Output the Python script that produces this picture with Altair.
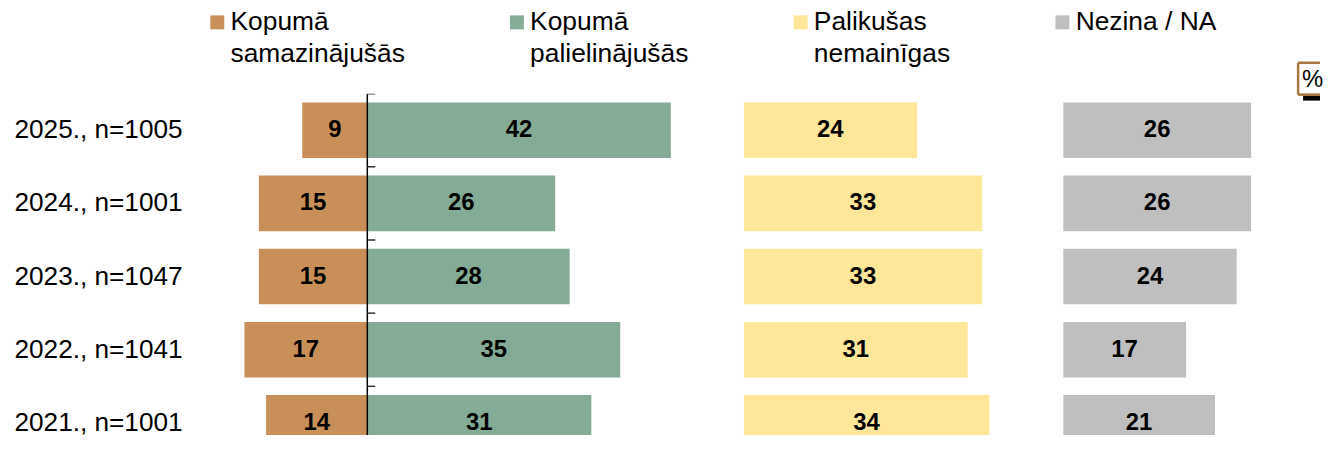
import altair as alt
import pandas as pd

years = ["2025., n=1005", "2024., n=1001", "2023., n=1047", "2022., n=1041", "2021., n=1001"]
decreased = [9, 15, 15, 17, 14]
increased = [42, 26, 28, 35, 31]
unchanged = [24, 33, 33, 31, 34]
dont_know = [26, 26, 24, 17, 21]

cats = ["Kopumā\nsamazinājušās", "Kopumā\npalielinājušās", "Palikušas\nnemainīgas", "Nezina / NA"]
colors = ["#C98F59", "#84AB95", "#FFE699", "#BFBFBF"]

FONT = "Liberation Sans"
S = 7.26  # px per percentage point

def frame(cat, vals, sign):
    df = pd.DataFrame({"year": years, "cat": cat, "value": vals})
    df["start"] = [sign * v if sign < 0 else 0 for v in vals]
    df["end"] = [0 if sign < 0 else v for v in vals]
    df["mid"] = (df["start"] + df["end"]) / 2
    return df

d1 = pd.concat([frame(cats[0], decreased, -1), frame(cats[1], increased, 1)], ignore_index=True)
d2 = frame(cats[2], unchanged, 1)
d3 = frame(cats[3], dont_know, 1)

STEP = 73.5
PI, PO = 0.24, 0.12
H = 343  # visible plot height (the last row is cut by the window)
yscale = alt.Scale(domain=years, paddingInner=PI, paddingOuter=PO, range=[0, 5 * STEP])

legend = alt.Legend(
    title=None, orient="none", legendX=-26, legendY=-85, direction="horizontal",
    columns=4, symbolType="square", symbolSize=196, symbolStrokeWidth=0,
    labelFont=FONT, labelFontSize=26.5, labelColor="black", labelOffset=0,
    columnPadding=99, labelLimit=400, labelBaseline="middle",
    labelExpr="indexof(datum.label, '\\n') < 0 ? [datum.label, ' '] : split(datum.label, '\\n')",
)
color = alt.Color("cat:N", scale=alt.Scale(domain=cats, range=colors), legend=legend)

def bars_text(df, dom, yaxis):
    xs = alt.Scale(domain=dom, nice=False, zero=False)
    base = alt.Chart(df)
    bars = base.mark_bar(clip=True).encode(
        x=alt.X("start:Q", scale=xs, axis=None),
        x2="end:Q",
        y=alt.Y("year:N", sort=years, scale=yscale, axis=yaxis),
        color=color,
    )
    txt = base.mark_text(font=FONT, fontSize=24, fontWeight="bold", color="black", clip=True).encode(
        x=alt.X("mid:Q", scale=xs, axis=None),
        y=alt.Y("year:N", sort=years, scale=yscale, axis=yaxis),
        text="value:Q",
    )
    return bars, txt, xs

W1 = 71 * S
left_axis = alt.Axis(title=None, domain=False, ticks=False, labelAlign="left", labelPadding=217,
                     labelFont=FONT, labelFontSize=26.3, labelColor="black", labelLimit=400)
b1, t1, xs1 = bars_text(d1, [-19, 52], left_axis)
zero = alt.Chart(pd.DataFrame({"z": [0]})).mark_rule(color="black", strokeWidth=1.5, clip=True).encode(
    x=alt.X("z:Q", scale=xs1, axis=None))
tick_df = pd.DataFrame({"year": years, "t0": 0.0, "t1": 1.1})
ticks = alt.Chart(tick_df).mark_rule(color="#333333", strokeWidth=1.5, clip=True).encode(
    y=alt.Y("year:N", sort=years, scale=yscale, axis=left_axis, bandPosition=0),
    yOffset=alt.value(-STEP * PI / 2),
    x=alt.X("t0:Q", scale=xs1, axis=None),
    x2="t1:Q",
)
p1 = alt.layer(b1, t1, zero, ticks).properties(width=W1, height=H)

W2 = 44.2 * S
b2, t2, _ = bars_text(d2, [0, 44.2], None)
p2 = alt.layer(b2, t2).properties(width=W2, height=H)

W3 = 36 * S
b3, t3, _ = bars_text(d3, [0, 36], None)
badge = alt.Chart(pd.DataFrame({"t": ["%"]}))
shadow = badge.mark_rect(color="black").encode(
    x=alt.value(241), x2=alt.value(258), y=alt.value(1), y2=alt.value(7))
box = badge.mark_rect(fill="white").encode(
    x=alt.value(236), x2=alt.value(258), y=alt.value(-31), y2=alt.value(2))
edge_style = dict(color="#A87640", strokeWidth=2.5)
e_top = badge.mark_rule(**edge_style).encode(
    x=alt.value(236), x2=alt.value(258), y=alt.value(-31))
e_bot = badge.mark_rule(**edge_style).encode(
    x=alt.value(236), x2=alt.value(258), y=alt.value(1))
e_left = badge.mark_rule(**edge_style).encode(
    x=alt.value(236), y=alt.value(-31), y2=alt.value(1))
pct = badge.mark_text(font=FONT, fontSize=24, color="black", align="left").encode(
    x=alt.value(240), y=alt.value(-14), text="t:N")
p3 = alt.layer(b3, t3, shadow, box, e_top, e_bot, e_left, pct).properties(width=W3, height=H)

chart = alt.hconcat(p1, p2, p3, spacing=0).properties(
    padding={"left": 6, "top": 0, "right": 0, "bottom": 0}
).configure(style={"guide-label": {"lineHeight": 32}}).configure_view(strokeWidth=0)

chart.save("out.html", embed_options={"renderer": "svg", "actions": False})
